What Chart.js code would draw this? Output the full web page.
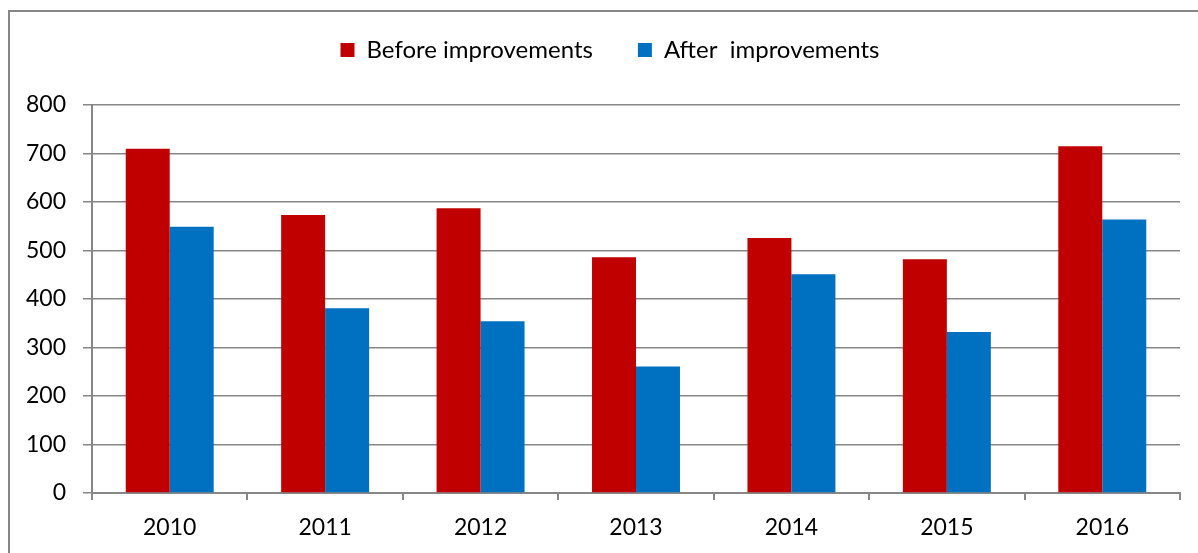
<!DOCTYPE html>
<html>
<head>
<meta charset="utf-8">
<script src="https://cdn.jsdelivr.net/npm/chart.js@4"></script>
<style>
  html, body { margin: 0; padding: 0; background: #fff; overflow: hidden; }
  #wrap { position: relative; width: 1198px; height: 553px; }
  #frame {
    position: absolute; left: 8px; top: 10px; width: 1400px; height: 800px;
    border-left: 2px solid #878787; border-top: 2px solid #878787;
  }
  #chart { position: absolute; left: 0; top: 0; }
</style>
</head>
<body>
<div id="wrap">
  <div id="frame"></div>
  <canvas id="chart" width="1198" height="553"></canvas>
</div>
<script>
// --- Data ---
const years = ['2010', '2011', '2012', '2013', '2014', '2015', '2016'];
const beforeValues = [710, 573, 587, 486, 526, 482, 715];
const afterValues = [549, 381, 354, 261, 451, 332, 564];
const yTicks = [0, 100, 200, 300, 400, 500, 600, 700, 800];

const gridColor = '#878787';
const fontFamily = 'Lato, "Open Sans", sans-serif';

// legend sits higher than Chart.js would put it, plot starts at ~105px
const legendTweak = {
    id: 'legendTweak',
    afterInit(chart) {
        const legend = chart.legend;
        const fit = legend.fit;
        legend.fit = function () {
            fit.call(this);
            this.height = 105;
        };
    },
    afterLayout(chart) {
        const legend = chart.legend;
        const p = legend.options.labels.padding;
        const itemH = Math.max(legend.options.labels.boxHeight, legend.options.labels.font.size);
        const dy = 50 - (legend.top + p + itemH / 2);
        legend.top += dy;
        legend.bottom += dy;
        legend.left += 20;
        legend.right += 20;
    }
};

const ctx = document.getElementById('chart').getContext('2d');
new Chart(ctx, {
    type: 'bar',
    data: {
        labels: years,
        datasets: [
            { label: 'Before improvements', data: beforeValues, backgroundColor: '#C00000' },
            { label: 'After  improvements', data: afterValues, backgroundColor: '#0070C0' }
        ]
    },
    plugins: [legendTweak],
    options: {
        responsive: false,
        animation: false,
        datasets: { bar: { categoryPercentage: 0.566, barPercentage: 1.0 } },
        layout: { padding: { top: 0, right: 18, bottom: 0, left: 0 } },
        plugins: {
            tooltip: { enabled: false },
            legend: {
                position: 'top',
                labels: {
                    color: '#000',
                    font: { family: fontFamily, size: 24 },
                    boxWidth: 14,
                    boxHeight: 14,
                    padding: 45
                }
            }
        },
        scales: {
            x: {
                afterFit: (scale) => { scale.height = 60; },
                grid: { drawOnChartArea: false, offset: true, tickLength: 7, color: gridColor, lineWidth: 2 },
                border: { color: gridColor, width: 2 },
                ticks: { color: '#000', font: { family: fontFamily, size: 23 }, padding: 14 }
            },
            y: {
                min: 0,
                max: 800,
                afterFit: (scale) => { scale.width = 92; },
                afterBuildTicks: (scale) => { scale.ticks = yTicks.map(v => ({ value: v })); },
                grid: { color: gridColor, lineWidth: 1.5, tickLength: 9 },
                border: { color: gridColor, width: 2 },
                ticks: { color: '#000', font: { family: fontFamily, size: 23 }, padding: 17 }
            }
        }
    }
});
</script>
</body>
</html>
